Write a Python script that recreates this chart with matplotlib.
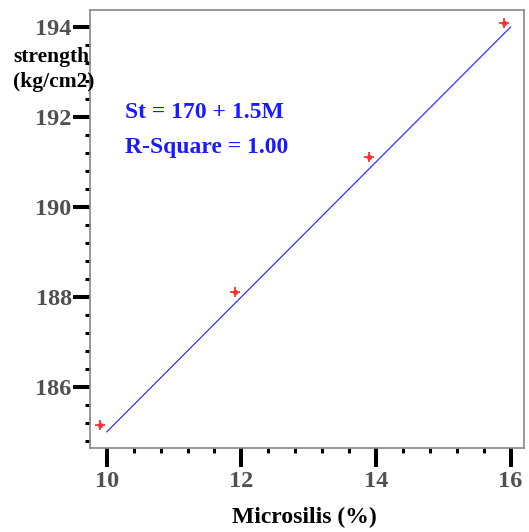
import numpy as np
import matplotlib
matplotlib.use('Agg')
import matplotlib.pyplot as plt
from matplotlib.ticker import MultipleLocator

# data
microsilis = [9.9, 11.9, 13.9, 15.9]
strength = [185.15, 188.1, 191.1, 194.1]
fit_x = [10, 16]
intercept = 170
slope = 1.5
x_ticks = [10, 12, 14, 16]
y_ticks = [186, 188, 190, 192, 194]

plt.rcParams['font.family'] = ['Liberation Serif', 'DejaVu Serif']

fig = plt.figure(figsize=(5.29, 5.32), dpi=100)
ax = fig.add_axes([90 / 529, 84 / 532, 434 / 529, 438 / 532])

fit_y = [intercept + slope * v for v in fit_x]
ax.plot(fit_x, fit_y, color='#3333ff', lw=0.9)
# red markers: plus sign with a small blob in the middle
ax.plot(microsilis, strength, ls='none', marker='+', ms=6.5, mew=1.3, color='#ff3333')
ax.plot(microsilis, strength, ls='none', marker='o', ms=3.8, color='#ff3333', mew=0)

ax.set_xlim(9.75, 16.2)
ax.set_ylim(184.64, 194.38)
ax.set_xticks(x_ticks)
ax.set_yticks(y_ticks)
ax.xaxis.set_minor_locator(MultipleLocator(0.4))
ax.yaxis.set_minor_locator(MultipleLocator(0.4))

ax.tick_params(which='major', direction='out', width=2.9, color='black',
               labelsize=17.5, labelcolor='#505050')
ax.tick_params(which='minor', direction='out', length=3.6, width=2.2, color='black')
ax.tick_params(axis='x', which='major', length=13.7, pad=3)
ax.tick_params(axis='y', which='major', length=12.2, pad=1)
for lab in ax.get_xticklabels() + ax.get_yticklabels():
    lab.set_fontweight('bold')
ax.tick_params(top=False, right=False)

for side in ['left', 'bottom', 'top', 'right']:
    ax.spines[side].set_color('#888888')
    ax.spines[side].set_linewidth(1.2)

fig.text(125 / 529, 1 - 118 / 532, 'St = 170 + 1.5M', color='#1a1aff',
         fontsize=17, fontweight='bold', va='baseline')
fig.text(125 / 529, 1 - 153 / 532, 'R-Square = 1.00', color='#1a1aff',
         fontsize=17, fontweight='bold', va='baseline')

fig.text(13 / 529, 1 - 62 / 532, 'strength', fontsize=15.5, fontweight='bold', va='baseline')
fig.text(13 / 529, 1 - 87 / 532, '(kg/cm2)', fontsize=15.5, fontweight='bold', va='baseline')
fig.text(304 / 529, 1 - 523 / 532, 'Microsilis (%)', fontsize=17, fontweight='bold',
         ha='center', va='baseline')

fig.savefig('out.png', dpi=100)
